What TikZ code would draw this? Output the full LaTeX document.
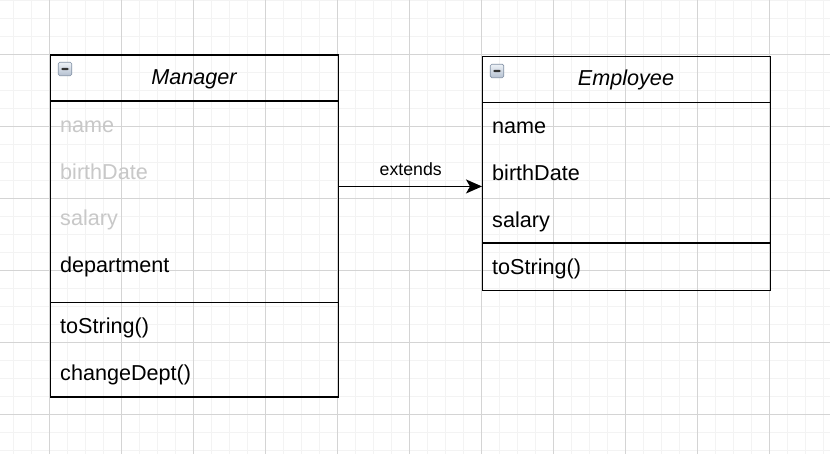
\documentclass[tikz,border=0pt]{standalone}
\usepackage{fontspec}
\setmainfont{Liberation Sans}
\usetikzlibrary{arrows.meta}
\definecolor{gridminor}{RGB}{243,243,243}
\definecolor{gridmajor}{RGB}{212,212,212}
\definecolor{faded}{RGB}{200,200,200}
\definecolor{iconedge}{RGB}{130,145,165}
\definecolor{icontop}{RGB}{238,242,247}
\definecolor{iconbot}{RGB}{180,192,208}
\tikzset{
  classbox/.style={draw=black, line width=1.4pt, rectangle, inner sep=0pt, anchor=north west},
  divider/.style={draw=black, line width=1.4pt},
  member/.style={anchor=base west, inner sep=0pt, font=\fontsize{21.6pt}{26pt}\selectfont},
  fadedmember/.style={member, text=faded},
  title/.style={anchor=base, inner sep=0pt, font=\fontsize{21.6pt}{26pt}\selectfont\itshape},
  icon/.style={rectangle, rounded corners=1.5pt, draw=iconedge, line width=0.7pt,
    top color=icontop, bottom color=iconbot, minimum width=13.5pt, minimum height=13.5pt, inner sep=0pt,
    path picture={\fill[black!80] ([xshift=-4pt,yshift=-1.2pt]path picture bounding box.center) rectangle ([xshift=4pt,yshift=1.2pt]path picture bounding box.center);}},
  arr/.style={draw=black, line width=1.3pt, -{Stealth[length=16pt,width=14pt,inset=4pt]}},
  edgelabel/.style={anchor=base, inner sep=0pt, font=\fontsize{17.7pt}{21pt}\selectfont}
}
\begin{document}
\begin{tikzpicture}[x=1pt,y=-1pt]
\useasboundingbox (0,0) rectangle (830,454);
\fill[white] (0,0) rectangle (830,454);
% grid
\foreach \i in {0,...,45} {\draw[gridminor, line width=1pt] ({13.3+18*\i},0) -- ({13.3+18*\i},454);}
\foreach \j in {0,...,25} {\draw[gridminor, line width=1pt] (0,{0.3+18*\j}) -- (830,{0.3+18*\j});}
\foreach \i in {0,...,10} {\draw[gridmajor, line width=1pt] ({49.3+72*\i},0) -- ({49.3+72*\i},454);}
\foreach \j in {0,...,5} {\draw[gridmajor, line width=1pt] (0,{54.3+72*\j}) -- (830,{54.3+72*\j});}

% Manager
\node[classbox, minimum width=288pt, minimum height=341.9pt] (mgr) at (50,54.3) {};
\draw[divider] ([yshift=-46.8pt]mgr.north west) -- ([yshift=-46.8pt]mgr.north east);
\draw[divider] ([yshift=-248.3pt]mgr.north west) -- ([yshift=-248.3pt]mgr.north east);
\node[icon] (mgricon) at (65,69) {};
\node[title] (mgrtitle) at (194,84.3) {Manager};
\node[fadedmember] (m1) at (60,132.3) {name};
\node[fadedmember] (m2) at (60,179.1) {birthDate};
\node[fadedmember] (m3) at (60,225.9) {salary};
\node[member] (m4) at (60,272.7) {department};
\node[member] (m5) at (60,333.9) {toString()};
\node[member] (m6) at (60,380.7) {changeDept()};

% Employee
\node[classbox, minimum width=288pt, minimum height=234.3pt] (emp) at (482,55.7) {};
\draw[divider] ([yshift=-46.8pt]emp.north west) -- ([yshift=-46.8pt]emp.north east);
\draw[divider] ([yshift=-187.3pt]emp.north west) -- ([yshift=-187.3pt]emp.north east);
\node[icon] (empicon) at (497,71) {};
\node[title] (emptitle) at (626,85.7) {Employee};
\node[member] (e1) at (492,133.8) {name};
\node[member] (e2) at (492,180.6) {birthDate};
\node[member] (e3) at (492,227.4) {salary};
\node[member] (e4) at (492,274.4) {toString()};

% extends arrow
\coordinate (s) at ([yshift=39.5pt]mgr.east);
\draw[arr] (s) -- (s -| emp.west) node[midway, edgelabel, yshift=11.4pt] (lbl) {extends};
\end{tikzpicture}
\end{document}
